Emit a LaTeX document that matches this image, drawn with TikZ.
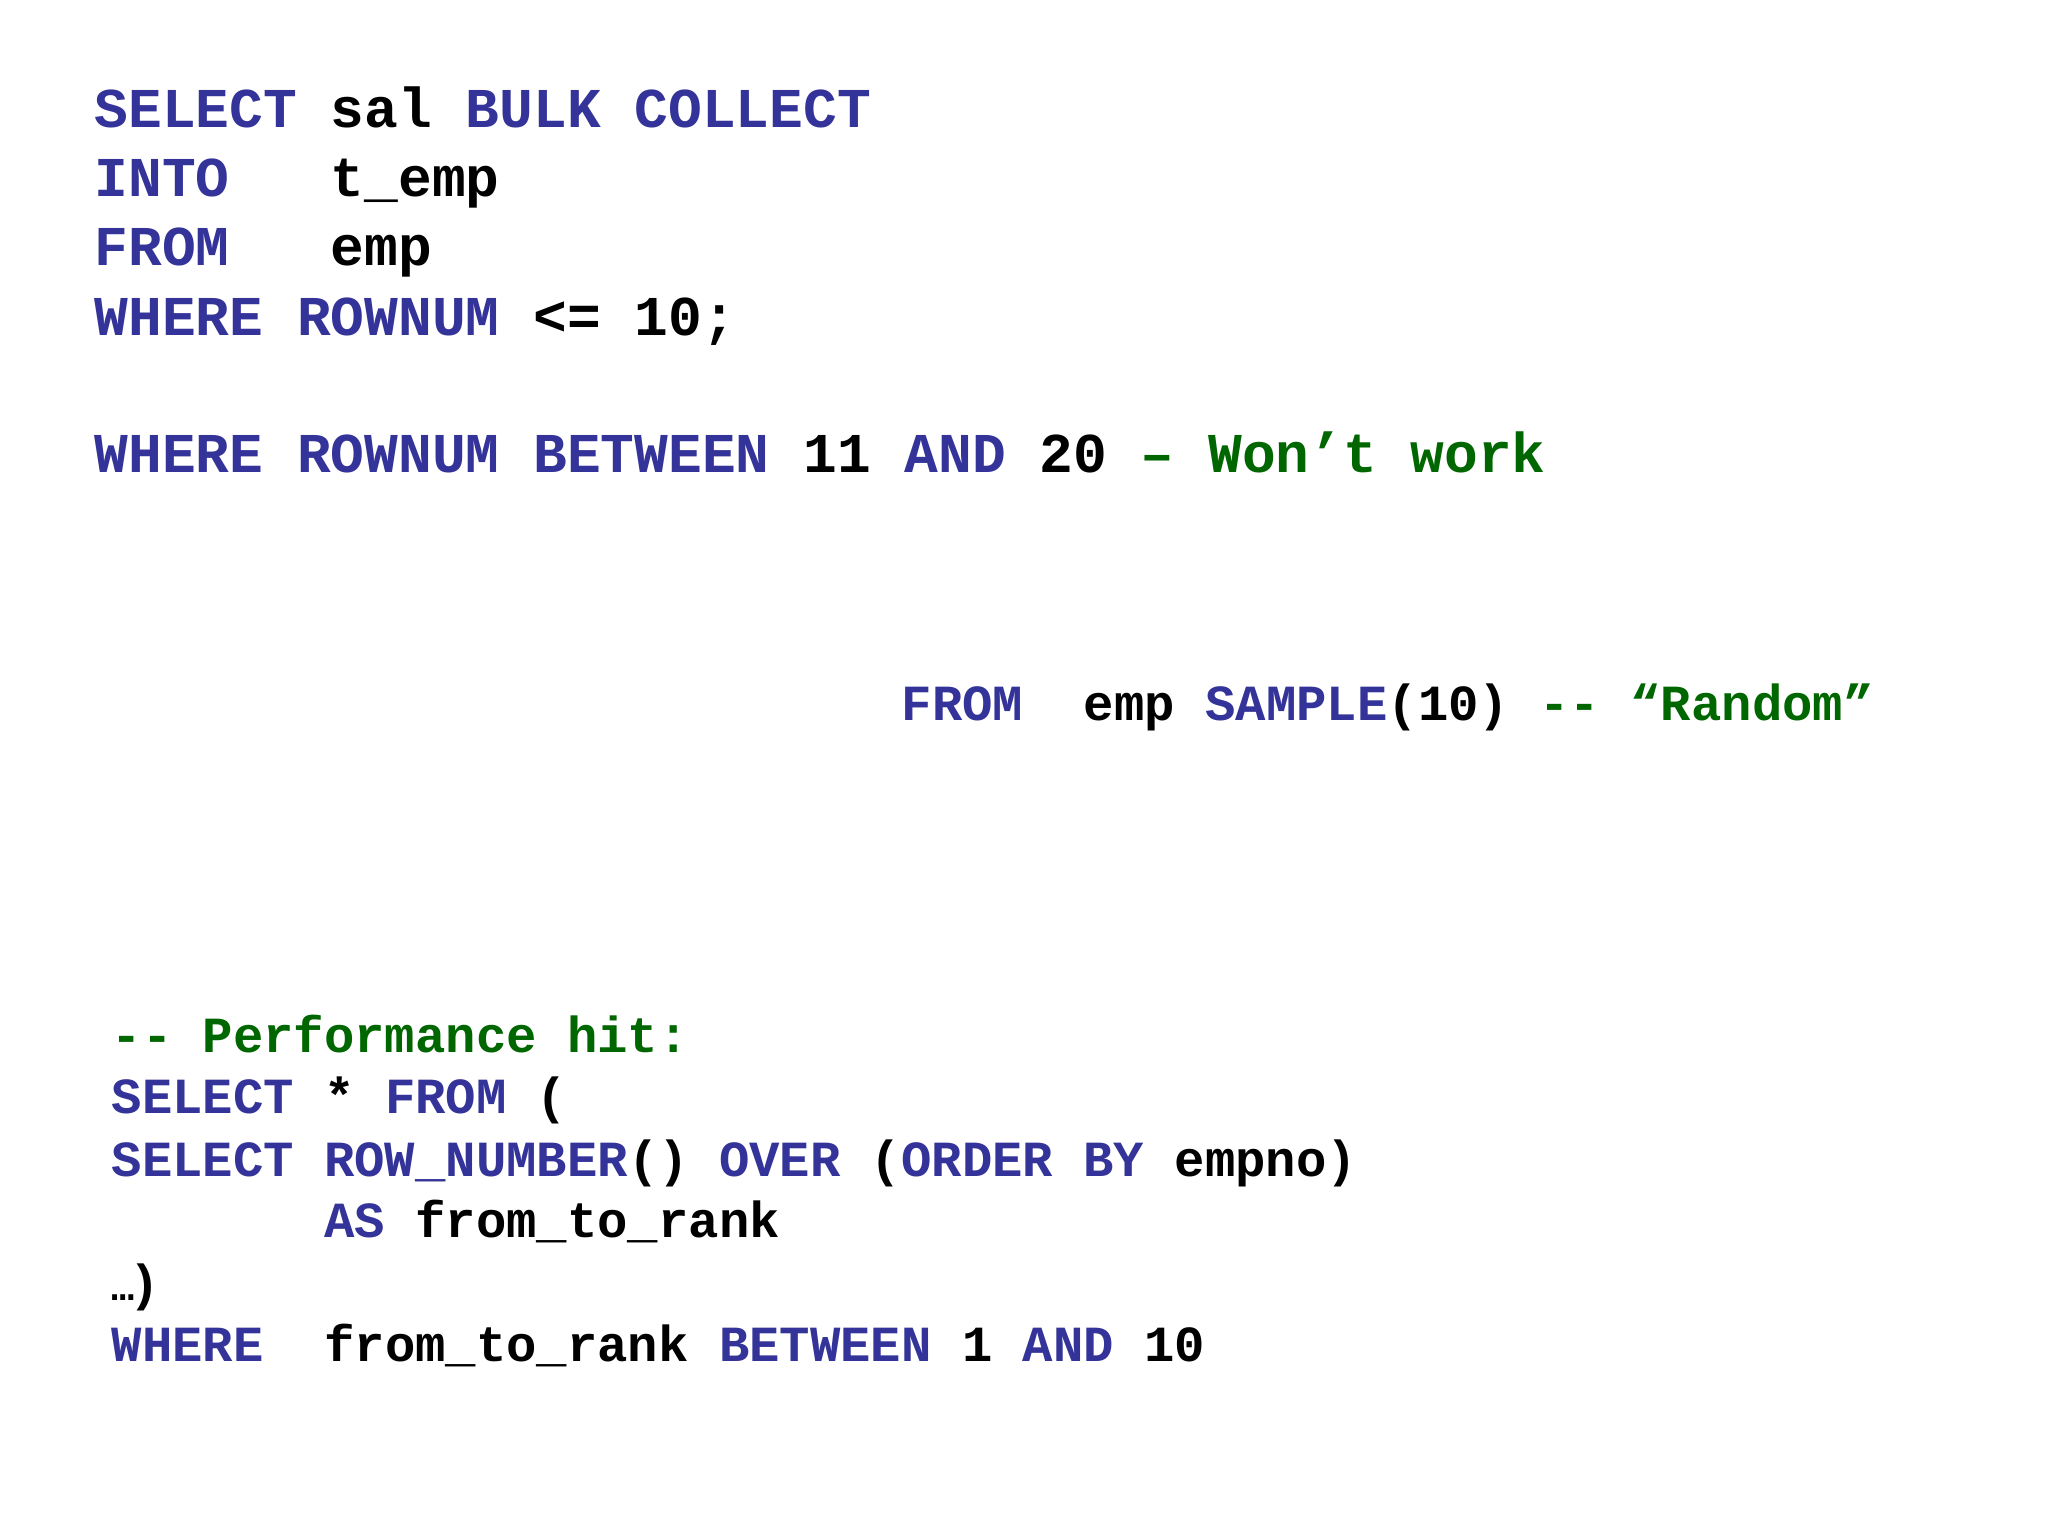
\documentclass[tikz,border=0pt]{standalone}
\usepackage{fontspec}
\setmonofont{Liberation Mono}
\definecolor{kw}{HTML}{333399}
\definecolor{cm}{HTML}{006600}
\newcommand{\B}[1]{\textcolor{kw}{#1}}
\newcommand{\G}[1]{\textcolor{cm}{#1}}
\begin{document}
\begin{tikzpicture}[
  big/.style={anchor=base west,inner sep=0pt,font=\ttfamily\bfseries\fontsize{16}{18}\selectfont},
  small/.style={anchor=base west,inner sep=0pt,font=\ttfamily\bfseries\fontsize{14.4}{16}\selectfont}]
\useasboundingbox (0,0) rectangle (20.48,15.36);
\node[big] (l1) at (0.94,14.08) {\B{SELECT}~sal~\B{BULK~COLLECT}};
\node[big] (l2) at (0.94,13.39) {\B{INTO}~~~t\_emp};
\node[big] (l3) at (0.94,12.70) {\B{FROM}~~~emp};
\node[big] (l4) at (0.94,12.00) {\B{WHERE~ROWNUM}~<=~10;};
\node[big] (l5) at (0.94,10.63) {\B{WHERE~ROWNUM~BETWEEN}~11~\B{AND}~20~\G{–~Won’t~work}};
\node[small] (l6) at (9.01,8.15) {\B{FROM}~~emp~\B{SAMPLE}(10)~\G{--~“Random”}};
\node[small] (m1) at (1.11,4.83) {\G{--~Performance~hit:}};
\node[small] (m2) at (1.11,4.22) {\B{SELECT}~*~\B{FROM}~(};
\node[small] (m3) at (1.11,3.59) {\B{SELECT~ROW\_NUMBER}()~\B{OVER}~(\B{ORDER~BY}~empno)};
\node[small] (m4) at (1.11,2.98) {~~~~~~~\B{AS}~from\_to\_rank};
\node[small] (m5) at (1.11,2.35) {{\fontsize{11}{12}\selectfont…}\kern-0.1em)};
\node[small] (m6) at (1.11,1.74) {\B{WHERE}~~from\_to\_rank~\B{BETWEEN}~1~\B{AND}~10};
\end{tikzpicture}
\end{document}
